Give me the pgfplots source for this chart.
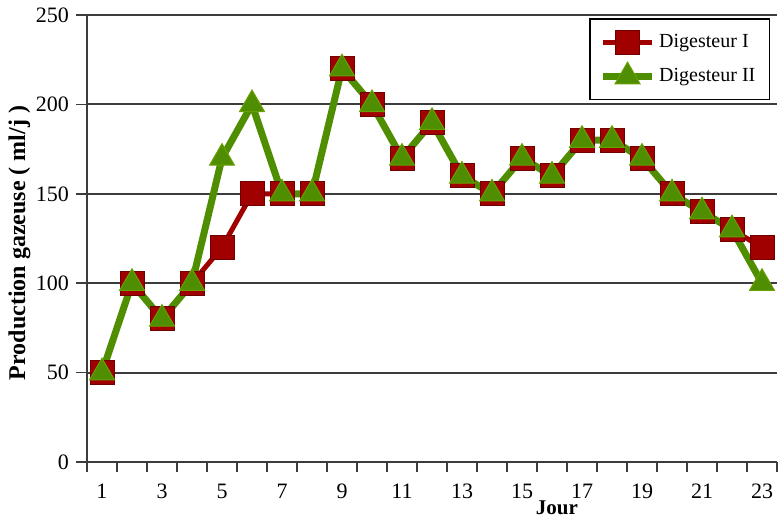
\documentclass[border=0pt]{standalone}
\usepackage{fontspec}
\setmainfont{Liberation Serif}
\usepackage{pgfplots}
\pgfplotsset{compat=1.18}
\definecolor{dred}{RGB}{160,0,0}
\definecolor{dgreen}{RGB}{78,142,0}
\definecolor{gridc}{RGB}{60,60,60}
\begin{document}
\begin{tikzpicture}
\begin{axis}[
    scale only axis,
    width=345pt, height=223.5pt,
    xmin=0.5, xmax=23.5,
    ymin=0, ymax=250,
    axis x line=bottom, axis y line=left,
    axis line style={-, gridc, line width=0.8pt},
    xtick={1,3,...,23},
    minor xtick={0.5,1.5,...,23.5},
    ytick={0,50,...,250},
    tick align=outside,
    major x tick style={draw=none},
    minor tick length=5pt,
    major tick length=5.5pt,
    tick style={gridc, line width=0.8pt},
    ymajorgrids,
    grid style={gridc, line width=0.9pt},
    tick label style={font=\fontsize{11}{12}\selectfont},
    xticklabel style={yshift=-2pt},
    /pgf/number format/assume math mode=true,
    xlabel={\textbf{Jour}},
    xlabel style={at={(axis description cs:0.681,0)}, anchor=north, yshift=-19.2pt, inner sep=0pt, font=\fontsize{10.5}{12}\selectfont},
    ylabel={\textbf{Production gazeuse ( ml/j )}},
    ylabel style={at={(axis description cs:-0.098,0.49)}, anchor=center, font=\fontsize{12}{13}\selectfont},
    legend style={at={(axis description cs:0.99,0.993)}, anchor=north east,
        draw=black, line width=0.8pt, font=\fontsize{10}{12}\selectfont,
        inner xsep=5pt, inner ysep=5.5pt, row sep=4pt},
    legend cell align=left,
    legend image code/.code={
        \draw[#1] (0cm,0cm) -- (0.85cm,0cm);
        \draw[#1, only marks] plot coordinates {(0.425cm,0cm)};
    },
]
\addplot[dred, line width=2.5pt, mark=square*, mark size=6pt,
    mark options={fill=dred, draw=dred!70!black, line width=0.5pt}]
coordinates {
(1,50) (2,100) (3,80) (4,100) (5,120) (6,150) (7,150) (8,150) (9,220)
(10,200) (11,170) (12,190) (13,160) (14,150) (15,170) (16,160) (17,180)
(18,180) (19,170) (20,150) (21,140) (22,130) (23,120)
};
\addlegendentry{Digesteur I}
\addplot[dgreen, line width=3.5pt, mark=triangle*, mark size=7.2pt,
    mark options={fill=dgreen, draw=dgreen!85!yellow, line width=0.5pt}]
coordinates {
(1,50) (2,100) (3,80) (4,100) (5,170) (6,200) (7,150) (8,150) (9,220)
(10,200) (11,170) (12,190) (13,160) (14,150) (15,170) (16,160) (17,180)
(18,180) (19,170) (20,150) (21,140) (22,130) (23,100)
};
\addlegendentry{Digesteur II}
\end{axis}
\pgfresetboundingbox
\path (-43.5pt,-28.5pt) rectangle (346pt,231pt);
\end{tikzpicture}
\end{document}
